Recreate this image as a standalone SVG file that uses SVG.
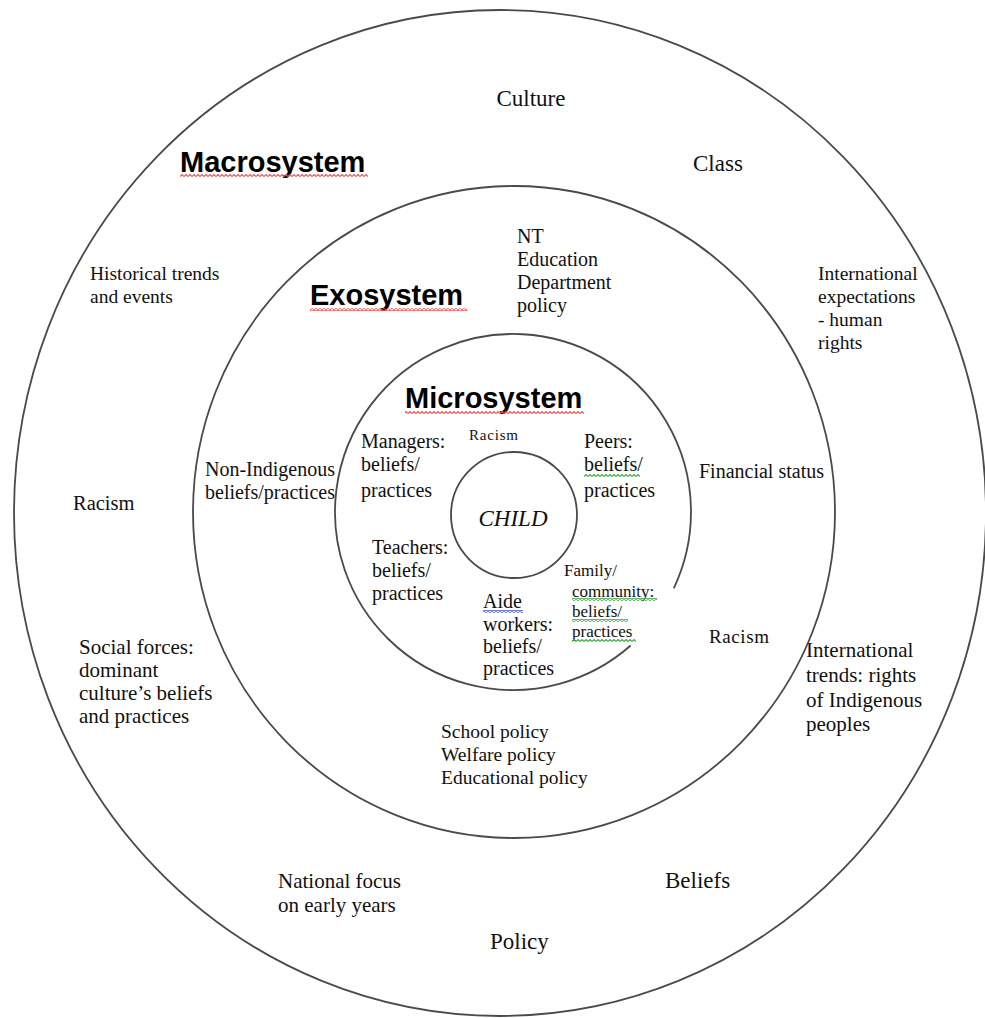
<svg xmlns="http://www.w3.org/2000/svg" width="985" height="1018" viewBox="0 0 985 1018">
<style>
.ring{fill:none;stroke:#4a4a4a;stroke-width:1.8}
.t{font-family:"Liberation Serif","Times New Roman",serif;fill:#111}
.h{font-family:"Liberation Sans",Arial,sans-serif;font-weight:bold;font-size:29px;fill:#000}
</style>
<defs>
<pattern id="wr" width="4" height="3" patternUnits="userSpaceOnUse"><path d="M0 2.5 L2 0.5 L4 2.5" fill="none" stroke="#f05a5a" stroke-width="1.2"/></pattern>
<pattern id="wg" width="4" height="3" patternUnits="userSpaceOnUse"><path d="M0 2.5 L2 0.5 L4 2.5" fill="none" stroke="#3fa845" stroke-width="1.1"/></pattern>
<pattern id="wb" width="4" height="3" patternUnits="userSpaceOnUse"><path d="M0 2.5 L2 0.5 L4 2.5" fill="none" stroke="#4a5ae0" stroke-width="1.1"/></pattern>
</defs>
<g id="connectors"></g>
<g id="macrosystem">
<ellipse class="ring" cx="500" cy="513" rx="486" ry="503"/>
<text class="h" x="180" y="172">Macrosystem</text>
<rect x="180" y="174" width="188" height="3" fill="url(#wr)"/>
<text class="t" x="531" y="106" font-size="23" text-anchor="middle">Culture</text>
<text class="t" x="693" y="171" font-size="23">Class</text>
<text class="t" font-size="19.5"><tspan x="90" y="280">Historical trends</tspan><tspan x="90" y="303">and events</tspan></text>
<text class="t" font-size="19.5"><tspan x="818" y="280">International</tspan><tspan x="818" y="303">expectations</tspan><tspan x="818" y="326">- human</tspan><tspan x="818" y="349">rights</tspan></text>
<text class="t" x="73" y="510" font-size="20.5">Racism</text>
<text class="t" font-size="21"><tspan x="79" y="654">Social forces:</tspan><tspan x="79" y="677">dominant</tspan><tspan x="79" y="700">culture’s beliefs</tspan><tspan x="79" y="723">and practices</tspan></text>
<text class="t" font-size="21"><tspan x="806" y="657">International</tspan><tspan x="806" y="682">trends: rights</tspan><tspan x="806" y="707">of Indigenous</tspan><tspan x="806" y="731">peoples</tspan></text>
<text class="t" font-size="21"><tspan x="278" y="888">National focus</tspan><tspan x="278" y="912">on early years</tspan></text>
<text class="t" x="665" y="888" font-size="23">Beliefs</text>
<text class="t" x="490" y="949" font-size="23">Policy</text>
</g>
<g id="exosystem">
<ellipse class="ring" cx="514" cy="512" rx="321" ry="326"/>
<text class="h" x="310" y="305">Exosystem</text>
<rect x="310" y="308" width="157" height="3" fill="url(#wr)"/>
<text class="t" font-size="20"><tspan x="517" y="243">NT</tspan><tspan x="517" y="266">Education</tspan><tspan x="517" y="289">Department</tspan><tspan x="517" y="312">policy</tspan></text>
<text class="t" font-size="20"><tspan x="205" y="476">Non-Indigenous</tspan><tspan x="205" y="499">beliefs/practices</tspan></text>
<text class="t" x="699" y="478" font-size="20">Financial status</text>
<text class="t" x="709" y="643" font-size="19" letter-spacing="0.6">Racism</text>
<text class="t" font-size="19.5"><tspan x="441" y="738">School policy</tspan><tspan x="441" y="761">Welfare policy</tspan><tspan x="441" y="784">Educational policy</tspan></text>
</g>
<g id="microsystem">
<path class="ring" d="M630.7 645.5 A178 178 0 1 1 673.8 588.3"/>
<text class="h" x="405" y="408">Microsystem</text>
<rect x="405" y="411" width="179" height="3" fill="url(#wr)"/>
<text class="t" x="469" y="440" font-size="15" letter-spacing="0.8">Racism</text>
<text class="t" font-size="20"><tspan x="361" y="448">Managers:</tspan><tspan x="361" y="471">beliefs/</tspan><tspan x="361" y="497">practices</tspan></text>
<text class="t" font-size="20"><tspan x="584" y="448">Peers:</tspan><tspan x="584" y="471">beliefs/</tspan><tspan x="584" y="497">practices</tspan></text>
<rect x="584" y="474" width="56" height="3" fill="url(#wg)"/>
<text class="t" font-size="20"><tspan x="372" y="554">Teachers:</tspan><tspan x="372" y="577">beliefs/</tspan><tspan x="372" y="600">practices</tspan></text>
<text class="t" font-size="20"><tspan x="483" y="608">Aide</tspan><tspan x="483" y="631">workers:</tspan><tspan x="483" y="653">beliefs/</tspan><tspan x="483" y="675">practices</tspan></text>
<rect x="483" y="610" width="40" height="3" fill="url(#wb)"/>
<text class="t" font-size="17"><tspan x="564" y="576">Family/</tspan><tspan x="572" y="597">community:</tspan><tspan x="572" y="617">beliefs/</tspan><tspan x="572" y="637">practices</tspan></text>
<rect x="572" y="598" width="85" height="3" fill="url(#wg)"/>
<rect x="572" y="619" width="56" height="3" fill="url(#wg)"/>
<rect x="572" y="639" width="64" height="3" fill="url(#wg)"/>
</g>
<g id="child">
<circle class="ring" cx="514" cy="515" r="63"/>
<text class="t" x="513" y="526" font-size="23" font-style="italic" text-anchor="middle">CHILD</text>
</g>
</svg>
